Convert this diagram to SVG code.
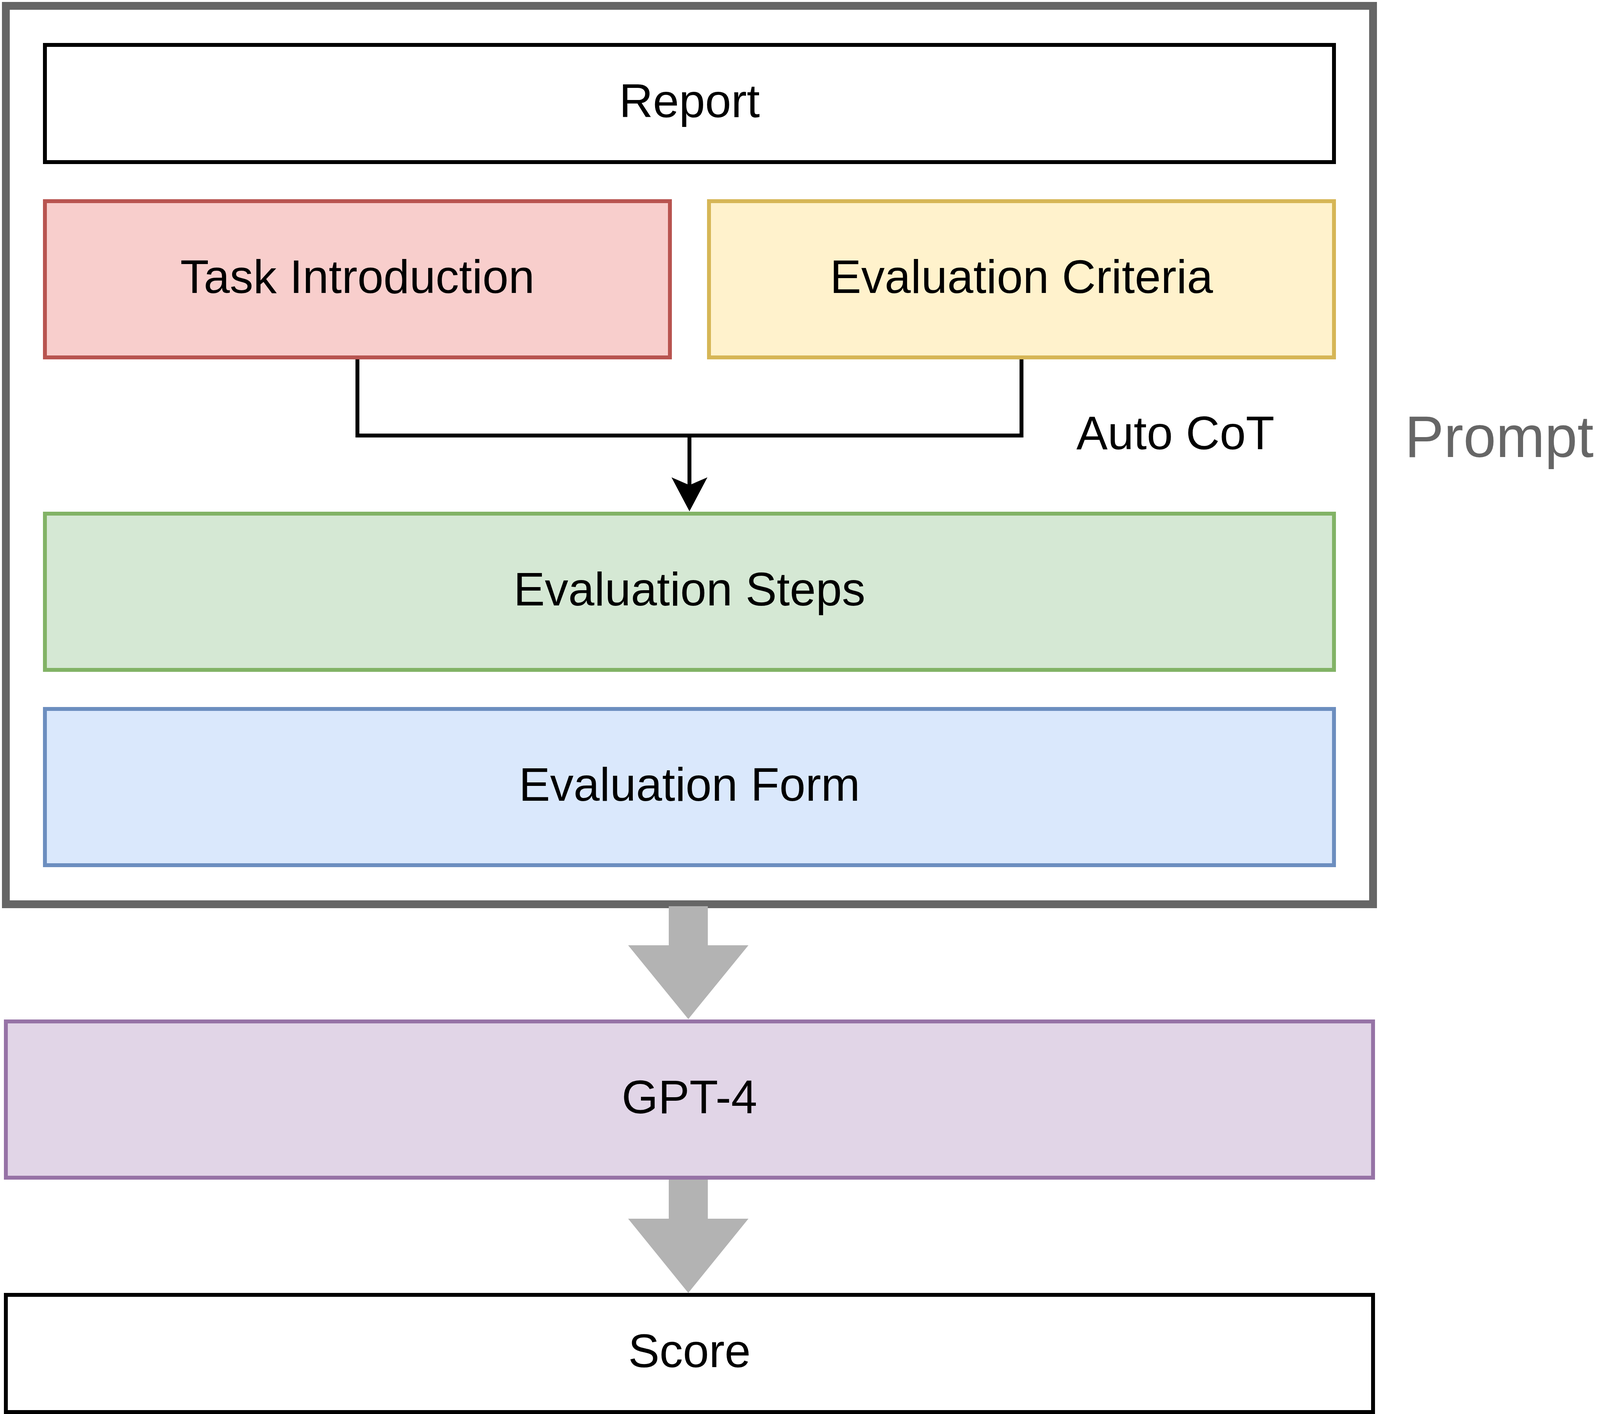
<svg xmlns="http://www.w3.org/2000/svg" width="4310" height="3620" viewBox="0 0 4310 3620">
  <style>
    .lbl { font-family: "Liberation Sans", Arial, Helvetica, sans-serif; font-size: 120px; fill: #000000; text-anchor: middle; }
    .box { stroke-width: 10; }
    .conn { fill: none; stroke: #000000; stroke-width: 10; stroke-linejoin: miter; stroke-linecap: butt; }
    .big { fill: #B3B3B3; stroke: none; }
  </style>
  <defs>
    <marker id="classic" viewBox="0 0 87 92" markerUnits="userSpaceOnUse" markerWidth="87" markerHeight="92" refX="20" refY="46" orient="auto">
      <path d="M0,0 L87,46 L0,92 L20,46 Z" fill="#000000"/>
    </marker>
  </defs>
  <rect x="0" y="0" width="4310" height="3620" fill="#ffffff"/>

  <g id="prompt-frame">
    <rect x="15" y="15" width="3500" height="2300" fill="#ffffff" stroke="#666666" stroke-width="20"/>
    <text x="3838" y="1170" font-family="Liberation Sans, Arial, Helvetica, sans-serif" font-size="150" fill="#666666" text-anchor="middle">Prompt</text>
  </g>

  <g id="report">
    <rect class="box" x="115" y="115" width="3300" height="300" fill="#ffffff" stroke="#000000"/>
    <text class="lbl" x="1765" y="300">Report</text>
  </g>

  <g id="task-introduction">
    <rect class="box" x="115" y="515" width="1600" height="400" fill="#f8cecc" stroke="#b85450"/>
    <text class="lbl" x="915" y="750">Task Introduction</text>
  </g>

  <g id="evaluation-criteria">
    <rect class="box" x="1815" y="515" width="1600" height="400" fill="#fff2cc" stroke="#d6b656"/>
    <text class="lbl" x="2615" y="750">Evaluation Criteria</text>
  </g>

  <g id="evaluation-steps">
    <rect class="box" x="115" y="1315" width="3300" height="400" fill="#d5e8d4" stroke="#82b366"/>
    <text class="lbl" x="1765" y="1550">Evaluation Steps</text>
  </g>

  <g id="evaluation-form">
    <rect class="box" x="115" y="1815" width="3300" height="400" fill="#dae8fc" stroke="#6c8ebf"/>
    <text class="lbl" x="1765" y="2050">Evaluation Form</text>
  </g>

  <g id="gpt4">
    <rect class="box" x="15" y="2615" width="3500" height="400" fill="#e1d5e7" stroke="#9673a6"/>
    <text class="lbl" x="1765" y="2850">GPT-4</text>
  </g>

  <g id="score">
    <rect class="box" x="15" y="3315" width="3500" height="300" fill="#ffffff" stroke="#000000"/>
    <text class="lbl" x="1765" y="3500">Score</text>
  </g>

  <g id="connectors">
    <path class="conn" d="M2615,920 V1115 H1765"/>
    <path class="conn" d="M915,920 V1115 H1765 V1242" marker-end="url(#classic)"/>
    <text class="lbl" x="3009" y="1150">Auto CoT</text>
    <path class="big" d="M1712,2320 H1812 V2420 H1916 L1762,2609 L1608,2420 H1712 Z"/>
    <path class="big" d="M1712,3020 H1812 V3120 H1916 L1762,3310 L1608,3120 H1712 Z"/>
  </g>
</svg>
